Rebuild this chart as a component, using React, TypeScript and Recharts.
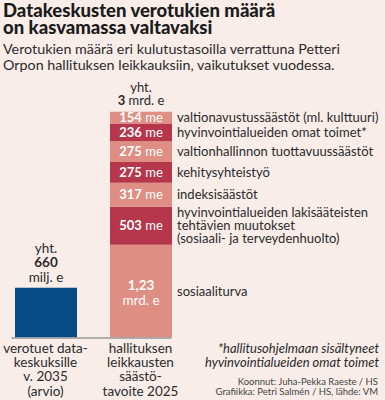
import React from 'react';
import { BarChart, Bar, XAxis, YAxis, LabelList, ReferenceLine } from 'recharts';

// categories on the x axis
const categories = ['datakeskukset', 'leikkaukset'];
const categoryLabels = [
  ['verotuet data-', 'keskuksille', 'v. 2035', '(arvio)'],
  ['hallituksen', 'leikkausten', 'säästö-', 'tavoite 2025'],
];

// milj. e
const datacenterSubsidy = [660, 0];

// government cuts, bottom to top of the stack (milj. e)
const cutNames = [
  ['sosiaaliturva'],
  ['hyvinvointialueiden lakisääteisten', 'tehtävien muutokset', '(sosiaali- ja terveydenhuolto)'],
  ['indeksisäästöt'],
  ['kehitysyhteistyö'],
  ['valtionhallinnon tuottavuussäästöt'],
  ['hyvinvointialueiden omat toimet*'],
  ['valtionavustussäästöt (ml. kulttuuri)'],
];
const cutValues = [1230, 503, 317, 275, 275, 236, 154];

const totalLabels = [
  ['yht.', '660', 'milj. e'],
  ['yht.', '3', 'mrd. e'],
];

const BG = '#f8ede9';
const BLUE = '#064a86';
const LIGHT = '#de8e82';
const DARK = '#b6364c';
const TEXT = '#2b2b2b';
const BAR = 62;
const FONT = 'Lato, sans-serif';

const data = categories.map((name, i) => {
  const row: Record<string, any> = { name, dc: datacenterSubsidy[i] };
  cutValues.forEach((v, k) => {
    row['c' + k] = name === 'leikkaukset' ? v : 0;
  });
  return row;
});

const box = (p: any) => {
  const vb = p.viewBox || {};
  return {
    x: p.x ?? vb.x,
    y: p.y ?? vb.y,
    width: p.width ?? vb.width,
    height: p.height ?? vb.height,
  };
};

const CategoryTick = (props: any) => {
  const { x, y, payload } = props;
  const lines = categoryLabels[payload.index] || [];
  return (
    <text x={x} y={y} textAnchor="middle" fontSize={13.5} fill={TEXT} fontFamily={FONT}>
      {lines.map((l, i) => (
        <tspan key={i} x={x} dy={i === 0 ? 15.5 : 14.2}>
          {l}
        </tspan>
      ))}
    </text>
  );
};

const valueLabel = (props: any) => {
  const v = Number(props.value);
  if (!v) return null;
  const { x, y, width, height } = box(props);
  const cx = x + width / 2;
  const cy = y + height / 2;
  if (v >= 1000) {
    const num = (v / 1000).toFixed(2).replace('.', ',');
    return (
      <text x={cx} y={cy} textAnchor="middle" fill="#fff" fontSize={13.5} fontFamily={FONT}>
        <tspan x={cx} dy={-1.5} fontWeight={700}>{num}</tspan>
        <tspan x={cx} dy={15}>mrd. e</tspan>
      </text>
    );
  }
  return (
    <text x={cx} y={cy + 4.7} textAnchor="middle" fill="#fff" fontSize={13} fontFamily={FONT}>
      <tspan fontWeight={700}>{v}</tspan>
      <tspan> me</tspan>
    </text>
  );
};

const nameLabel = (k: number) => (props: any) => {
  const v = Number(props.value);
  if (!v) return null;
  const { x, y, width, height } = box(props);
  const lines = cutNames[k];
  const lx = x + width + 5;
  const cy = y + height / 2 - ((lines.length - 1) * 13.2) / 2 + 4.5;
  return (
    <text x={lx} y={cy} fill={TEXT} fontSize={13} fontFamily={FONT}>
      {lines.map((l, i) => (
        <tspan key={i} x={lx} dy={i === 0 ? 0 : 13.2}>
          {l}
        </tspan>
      ))}
    </text>
  );
};

// total above a bar; each bar has one non-zero entry
const totalLabel = (idx: number) => (props: any) => {
  const v = Number(props.value);
  if (!v) return null;
  const { x, y, width } = box(props);
  const cx = x + width / 2;
  const [a, num, unit] = totalLabels[idx];
  if (idx === 0) {
    return (
      <text x={cx} y={y} textAnchor="middle" fill={TEXT} fontSize={13.5} fontFamily={FONT}>
        <tspan x={cx} dy={-35}>{a}</tspan>
        <tspan x={cx} dy={14.5} fontWeight={700}>{num}</tspan>
        <tspan x={cx} dy={14.5}>{unit}</tspan>
      </text>
    );
  }
  return (
    <text x={cx} y={y} textAnchor="middle" fill={TEXT} fontSize={13} fontFamily={FONT}>
      <tspan x={cx} dy={-20}>{a}</tspan>
      <tspan x={cx} dy={12.8} fontWeight={700}>{num}</tspan>
      <tspan> {unit}</tspan>
    </text>
  );
};

const BaseLine = (p: any) => (
  <line x1={p.x1 - BAR / 2 - 3} x2={p.x2 + BAR / 2} y1={p.y1 + 0.5} y2={p.y2 + 0.5} stroke="#999" strokeWidth={1.5} />
);

const titleLine: React.CSSProperties = {
  position: 'absolute',
  left: 3,
  fontSize: 18.5,
  fontWeight: 900,
  lineHeight: '20px',
  color: '#1b1b1b',
  whiteSpace: 'nowrap',
};

export default function App() {
  return (
    <div
      style={{
        position: 'absolute',
        left: 0,
        top: 0,
        width: 385,
        height: 400,
        background: BG,
        fontFamily: FONT,
        overflow: 'hidden',
      }}
    >
      <div style={{ ...titleLine, top: 0 }}>Datakeskusten verotukien määrä</div>
      <div style={{ ...titleLine, top: 16.5 }}>on kasvamassa valtavaksi</div>
      <div
        style={{
          position: 'absolute',
          left: 3,
          top: 40.5,
          fontSize: 14.3,
          lineHeight: '16px',
          color: TEXT,
          whiteSpace: 'nowrap',
        }}
      >
        Verotukien määrä eri kulutustasoilla verrattuna Petteri
        <br />
        Orpon hallituksen leikkauksiin, vaikutukset vuodessa.
      </div>

      <div style={{ position: 'absolute', left: 0, top: 0 }}>
        <BarChart
          width={385}
          height={400}
          data={data}
          margin={{ top: 111, right: 197, bottom: 2.5, left: -2 }}
          barSize={BAR}
        >
          <XAxis
            dataKey="name"
            axisLine={false}
            tickLine={false}
            tickSize={0}
            tickMargin={0}
            height={60}
            interval={0}
            tick={<CategoryTick />}
          />
          <YAxis hide domain={[0, 3000]} type="number" />
          <Bar dataKey="dc" stackId="s" fill={BLUE} isAnimationActive={false}>
            <LabelList dataKey="dc" content={totalLabel(0)} />
          </Bar>
          {cutValues.map((_, k) => (
            <Bar
              key={k}
              dataKey={'c' + k}
              stackId="s"
              fill={k % 2 === 0 ? LIGHT : DARK}
              isAnimationActive={false}
            >
              <LabelList dataKey={'c' + k} content={valueLabel} />
              <LabelList dataKey={'c' + k} content={nameLabel(k)} />
              {k === cutValues.length - 1 && <LabelList dataKey={'c' + k} content={totalLabel(1)} />}
            </Bar>
          ))}
          <ReferenceLine
            segment={[
              { x: categories[0], y: 0 },
              { x: categories[1], y: 0 },
            ]}
            shape={BaseLine}
          />
        </BarChart>
      </div>

      <div
        style={{
          position: 'absolute',
          right: 6,
          top: 340.7,
          fontSize: 13,
          fontStyle: 'italic',
          lineHeight: '14px',
          color: TEXT,
          textAlign: 'right',
          whiteSpace: 'nowrap',
        }}
      >
        *hallitusohjelmaan sisältyneet
        <br />
        hyvinvointialueiden omat toimet
      </div>
      <div
        style={{
          position: 'absolute',
          right: 7,
          top: 377,
          fontSize: 9.5,
          lineHeight: '10px',
          color: '#444',
          textAlign: 'right',
          whiteSpace: 'nowrap',
        }}
      >
        Koonnut: Juha-Pekka Raeste / HS
        <br />
        Grafiikka: Petri Salmén / HS, lähde: VM
      </div>
    </div>
  );
}
